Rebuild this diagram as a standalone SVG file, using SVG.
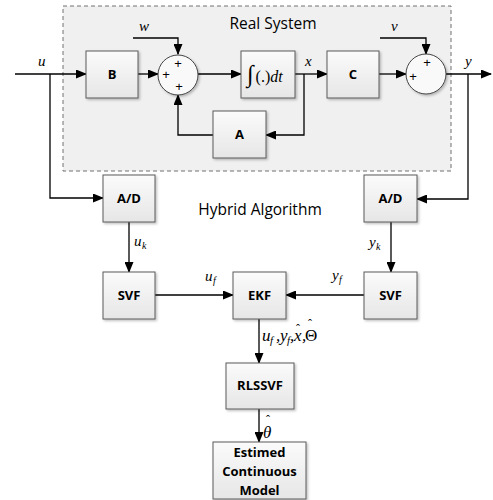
<svg xmlns="http://www.w3.org/2000/svg" width="493" height="500" viewBox="0 0 493 500">
<defs>
<marker id="ar" markerWidth="11" markerHeight="9" refX="10" refY="4.5" orient="auto" markerUnits="userSpaceOnUse">
<path d="M0,0 L11,4.5 L0,9 z" fill="#000"/>
</marker>
<linearGradient id="g" x1="0" y1="0" x2="0" y2="1">
<stop offset="0" stop-color="#fbfbfb"/><stop offset="1" stop-color="#e6e6e6"/>
</linearGradient>
<filter id="sh" x="-10%" y="-10%" width="130%" height="130%">
<feDropShadow dx="1.5" dy="1.5" stdDeviation="0.8" flood-color="#000" flood-opacity="0.25"/>
</filter>
</defs>
<style>
.box{fill:url(#g);stroke:#5a5a5a;stroke-width:1;filter:url(#sh)}
.sum{fill:#f9f9f9;stroke:#444;stroke-width:1;filter:url(#sh)}
.lbl{font-family:"Open Sans","Liberation Sans",sans-serif;font-weight:bold;font-size:13px;text-anchor:middle}
.m{font-family:"Liberation Serif","Times New Roman",serif;font-style:italic;font-size:15px}
.sub{font-family:"Liberation Serif","Times New Roman",serif;font-style:italic;font-size:10px}
.hat{font-family:"Liberation Serif","Times New Roman",serif;font-size:12px}
.pl{font-family:"Liberation Sans",Arial,sans-serif;font-size:13px;text-anchor:middle}
.ttl{font-family:"Open Sans","Liberation Sans",sans-serif;font-size:15.5px;text-anchor:middle}
.ln{fill:none;stroke:#000;stroke-width:1.3}
</style>
<rect width="493" height="500" fill="#fff"/>
<rect x="63" y="6" width="388" height="165" fill="#f0f0f0" stroke="#707070" stroke-width="1" stroke-dasharray="4,3"/>
<text class="ttl" x="273" y="29">Real System</text>
<text class="ttl" x="260" y="215">Hybrid Algorithm</text>

<g id="connectors">
<path class="ln" d="M15,74 H86" marker-end="url(#ar)"/>
<path class="ln" d="M138,74 H158" marker-end="url(#ar)"/>
<path class="ln" d="M133,38 H178 V54" marker-end="url(#ar)"/>
<path class="ln" d="M198,74 H241" marker-end="url(#ar)"/>
<path class="ln" d="M295,74 H327" marker-end="url(#ar)"/>
<path class="ln" d="M304,74 V135 H266" marker-end="url(#ar)"/>
<path class="ln" d="M213,135 H178 V95" marker-end="url(#ar)"/>
<path class="ln" d="M379,74 H406" marker-end="url(#ar)"/>
<path class="ln" d="M380,38 H426 V54" marker-end="url(#ar)"/>
<path class="ln" d="M446,74 H491" marker-end="url(#ar)"/>
<path class="ln" d="M50,74 V198 H103" marker-end="url(#ar)"/>
<path class="ln" d="M468,74 V199 H417" marker-end="url(#ar)"/>
<path class="ln" d="M129,222 V272" marker-end="url(#ar)"/>
<path class="ln" d="M391,222 V272" marker-end="url(#ar)"/>
<path class="ln" d="M155,295 H233" marker-end="url(#ar)"/>
<path class="ln" d="M364,295 H286" marker-end="url(#ar)"/>
<path class="ln" d="M259,319 V363" marker-end="url(#ar)"/>
<path class="ln" d="M259,409 V442" marker-end="url(#ar)"/>
</g>

<g id="labels">
<text class="m" x="38" y="66">u</text>
<text class="m" x="139" y="31">w</text>
<text class="m" x="305" y="66">x</text>
<text class="m" x="391" y="31">v</text>
<text class="m" x="465" y="66">y</text>
<text class="m" x="134" y="246">u</text><text class="sub" x="142" y="249">k</text>
<text class="m" x="369" y="247">y</text><text class="sub" x="376" y="250">k</text>
<text class="m" x="205" y="281">u</text><text class="sub" x="213" y="284">f</text>
<text class="m" x="332" y="280">y</text><text class="sub" x="339" y="283">f</text>
<text class="m" style="font-size:17px" y="341"><tspan x="262">u</tspan><tspan x="276">,</tspan><tspan x="280">y</tspan><tspan x="290">,</tspan><tspan x="294">x</tspan><tspan x="302">,</tspan><tspan x="305" style="font-style:normal">Θ</tspan></text>
<text class="sub" style="font-size:11px"><tspan x="270" y="344">f</tspan><tspan x="287" y="344">f</tspan></text>
<text class="hat"><tspan x="296" y="333">ˆ</tspan><tspan x="308" y="328">ˆ</tspan></text>
<text class="m" x="263" y="438" style="font-size:17px">θ</text>
<text class="hat" x="266" y="424">ˆ</text>
</g>

<g id="B"><rect class="box" x="86" y="51" width="52" height="47"/><text class="lbl" x="112" y="79">B</text></g>
<g id="sum1"><circle class="sum" cx="178" cy="75" r="20"/>
<text class="pl" x="178" y="68">+</text><text class="pl" x="166" y="79">+</text><text class="pl" x="179" y="91">+</text></g>
<g id="integrator"><rect class="box" x="241" y="51" width="54" height="47"/>
<text class="m" x="247" y="82" style="font-size:16px"><tspan style="font-style:normal;font-size:24px">∫</tspan><tspan dx="2" style="font-style:normal">(.)</tspan><tspan>dt</tspan></text></g>
<g id="A"><rect class="box" x="213" y="111" width="53" height="47"/><text class="lbl" x="239.5" y="139">A</text></g>
<g id="C"><rect class="box" x="327" y="51" width="52" height="47"/><text class="lbl" x="353" y="79">C</text></g>
<g id="sum2"><circle class="sum" cx="426" cy="74" r="20"/>
<text class="pl" x="427" y="67">+</text><text class="pl" x="413" y="81">+</text></g>
<g id="AD1"><rect class="box" x="103" y="175" width="52" height="47"/><text class="lbl" x="129" y="203">A/D</text></g>
<g id="AD2"><rect class="box" x="364" y="175" width="53" height="47"/><text class="lbl" x="390.5" y="203">A/D</text></g>
<g id="SVF1"><rect class="box" x="103" y="272" width="52" height="47"/><text class="lbl" x="129" y="300">SVF</text></g>
<g id="EKF"><rect class="box" x="233" y="272" width="53" height="47"/><text class="lbl" x="259.5" y="300">EKF</text></g>
<g id="SVF2"><rect class="box" x="364" y="272" width="53" height="47"/><text class="lbl" x="390.5" y="300">SVF</text></g>
<g id="RLSSVF"><rect class="box" x="226" y="363" width="68" height="46"/><text class="lbl" x="260" y="390">RLSSVF</text></g>
<g id="model"><rect class="box" x="213" y="442" width="93" height="57"/>
<text class="lbl" x="259.5" y="457">Estimed</text><text class="lbl" x="259.5" y="476">Continuous</text><text class="lbl" x="259.5" y="495">Model</text></g>
</svg>
